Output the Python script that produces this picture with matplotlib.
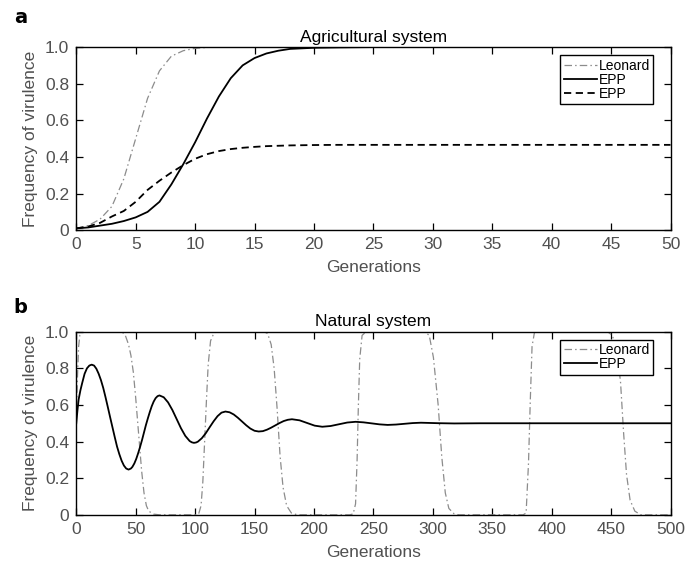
import matplotlib
matplotlib.use('Agg')
import matplotlib.pyplot as plt

# --- panel a: agricultural system ---
agri_gen = [0, 1, 2, 3, 4, 5, 6, 7, 8, 9, 10, 11, 12, 13, 14, 15, 16, 17, 18,
            19, 20, 22, 25, 30, 40, 50]
agri_leonard = [0.01, 0.025, 0.06, 0.13, 0.28, 0.50, 0.72, 0.87, 0.95, 0.98,
                0.993, 0.998, 1.0, 1.0, 1.0, 1.0, 1.0, 1.0, 1.0, 1.0, 1.0,
                1.0, 1.0, 1.0, 1.0, 1.0]
agri_epp = [0.01, 0.015, 0.025, 0.035, 0.05, 0.07, 0.10, 0.155, 0.25, 0.36,
            0.48, 0.61, 0.73, 0.83, 0.90, 0.94, 0.965, 0.98, 0.99, 0.993,
            0.996, 0.998, 1.0, 1.0, 1.0, 1.0]
agri_epp2 = [0.01, 0.02, 0.04, 0.075, 0.105, 0.155, 0.22, 0.27, 0.315, 0.355,
             0.39, 0.415, 0.432, 0.443, 0.45, 0.455, 0.459, 0.461, 0.463,
             0.464, 0.465, 0.466, 0.466, 0.466, 0.466, 0.466]

# --- panel b: natural system ---
nat_leo_gen = [0, 1, 2, 3, 5, 8, 38, 41, 44, 46, 48, 50, 52.5, 55, 57, 59, 61,
               65, 70,
               100, 103, 105, 106.5, 108, 109.5, 111, 113, 116, 120,
               158, 161, 164, 166.5, 169, 171.5, 174, 177, 181, 186,
               230, 233, 235, 236.3, 237.3, 238.5, 240.5, 244,
               293, 297, 300.5, 304.5, 307.5, 310.5, 313.5, 318, 322,
               376, 378.5, 380.5, 382, 383.5, 385.5, 388,
               447, 451, 455, 458, 460.5, 463, 466, 470, 475, 500]
nat_leonard = [0.5, 0.75, 0.92, 0.98, 0.998, 1.0, 1.0, 0.985, 0.93, 0.87,
               0.78, 0.64, 0.44, 0.24, 0.12, 0.05, 0.02, 0.004, 0.0,
               0.0, 0.005, 0.05, 0.18, 0.40, 0.62, 0.82, 0.95, 0.995, 1.0,
               1.0, 0.99, 0.93, 0.80, 0.58, 0.32, 0.15, 0.05, 0.01, 0.0,
               0.0, 0.005, 0.06, 0.30, 0.58, 0.85, 0.98, 1.0,
               1.0, 0.98, 0.86, 0.60, 0.32, 0.12, 0.035, 0.005, 0.0,
               0.0, 0.01, 0.28, 0.62, 0.92, 0.995, 1.0,
               1.0, 0.98, 0.90, 0.72, 0.45, 0.22, 0.08, 0.02, 0.0, 0.0]

nat_epp_gen = [0, 1, 2, 3.5, 5, 7, 9, 11, 13, 15, 16.9, 18.8, 20.75, 22.7,
               24.6, 26.5, 28.5, 30.5, 32.4, 34.3, 36.25, 38.2, 40.1, 42, 44,
               46, 47.25, 48.9, 50.5, 52.1, 53.75, 55.4, 57, 58.6, 60.25, 61.9,
               63.5, 65.1, 66.75, 68.4, 70,
               73.6, 77.25, 80.9, 84.5, 88.1, 91.75, 95.4, 97.2, 99, 100.8,
               102.3, 105.6, 109, 112.25, 115.6, 118.9, 122.2, 125.5,
               129, 132.5, 136, 139.5, 143, 146.5, 150, 153.5, 157, 160.5, 164,
               167.5, 171, 174.5, 178, 181.5,
               187.9, 194.25, 200.6, 207, 214, 221, 228, 235, 241.7, 248.5,
               255.2, 262, 269, 276, 283, 290, 304, 318, 340, 400, 500]
nat_epp = [0.5, 0.57, 0.63, 0.68, 0.72, 0.77, 0.80, 0.815, 0.82, 0.815, 0.798,
           0.771, 0.736, 0.693, 0.643, 0.59, 0.533, 0.477, 0.424, 0.373,
           0.331, 0.295, 0.269, 0.253, 0.247, 0.253, 0.262, 0.281, 0.306,
           0.337, 0.372, 0.41, 0.45, 0.49, 0.527, 0.562, 0.593, 0.618, 0.637,
           0.648, 0.652, 0.642, 0.614, 0.572, 0.5225, 0.473, 0.431, 0.403,
           0.396, 0.393, 0.395, 0.3995, 0.418, 0.446, 0.4785, 0.511, 0.539,
           0.558, 0.564, 0.56, 0.548, 0.53, 0.5095, 0.489, 0.471, 0.459,
           0.455, 0.457, 0.465, 0.476, 0.4885, 0.501, 0.512, 0.519, 0.522,
           0.516, 0.5015, 0.487, 0.481, 0.485, 0.4945, 0.504, 0.508, 0.505,
           0.4995, 0.494, 0.491, 0.493, 0.497, 0.501, 0.503, 0.5005, 0.499,
           0.5, 0.5, 0.5]

yticks = [0, 0.2, 0.4, 0.6, 0.8, 1.0]
ytick_labels = ['0', '0.2', '0.4', '0.6', '0.8', '1.0']

plt.rcParams['font.family'] = ['Liberation Sans', 'DejaVu Sans']

GRAY_TXT = '#505050'
LEO_COL = '#8c8c8c'
LEO_DASH = (6, 2.5, 1.2, 2.5)


def style_axes(ax, xmax, xstep, title):
    ax.set_xlim(0, xmax)
    ax.set_ylim(0, 1.0)
    ax.set_xticks(range(0, xmax + 1, xstep))
    ax.set_yticks(yticks)
    ax.set_yticklabels(ytick_labels)
    ax.tick_params(direction='in', length=5, width=0.9, top=True, right=True,
                   labelsize=12.5, labelcolor=GRAY_TXT, pad=5)
    for s in ax.spines.values():
        s.set_linewidth(1.0)
    ax.set_xlabel('Generations', fontsize=12.5, color=GRAY_TXT, labelpad=6)
    ax.set_ylabel('Frequency of virulence', fontsize=12.5, color=GRAY_TXT,
                  labelpad=5)
    ax.set_title(title, fontsize=12.5, pad=4)
    leg = ax.legend(loc='upper right', bbox_to_anchor=(0.971, 0.956),
                    fontsize=10, frameon=True, fancybox=False,
                    edgecolor='black', framealpha=1, handlelength=2.4,
                    handletextpad=0.1, labelspacing=0.0, borderpad=0.25,
                    borderaxespad=0)
    leg.get_frame().set_linewidth(1.0)


fig = plt.figure(figsize=(6.87, 5.67), dpi=100)
ax1 = fig.add_axes([0.111, 0.594, 0.865, 0.323])
ax2 = fig.add_axes([0.111, 0.092, 0.865, 0.323])

ax1.plot(agri_gen, agri_leonard, color=LEO_COL, lw=0.9, dashes=LEO_DASH,
         label='Leonard')
ax1.plot(agri_gen, agri_epp, color='black', lw=1.3, label='EPP')
ax1.plot(agri_gen, agri_epp2, color='black', lw=1.3, dashes=(4, 2.5),
         label='EPP')
style_axes(ax1, 50, 5, 'Agricultural system')

ax2.plot(nat_leo_gen, nat_leonard, color=LEO_COL, lw=0.9, dashes=LEO_DASH,
         label='Leonard')
ax2.plot(nat_epp_gen, nat_epp, color='black', lw=1.3, label='EPP')
style_axes(ax2, 500, 50, 'Natural system')

fig.text(0.02, 0.959, 'a', fontsize=14, fontweight='bold', va='baseline',
         family='DejaVu Sans')
fig.text(0.02, 0.448, 'b', fontsize=14, fontweight='bold', va='baseline',
         family='DejaVu Sans')

fig.savefig('out.png', dpi=100)
